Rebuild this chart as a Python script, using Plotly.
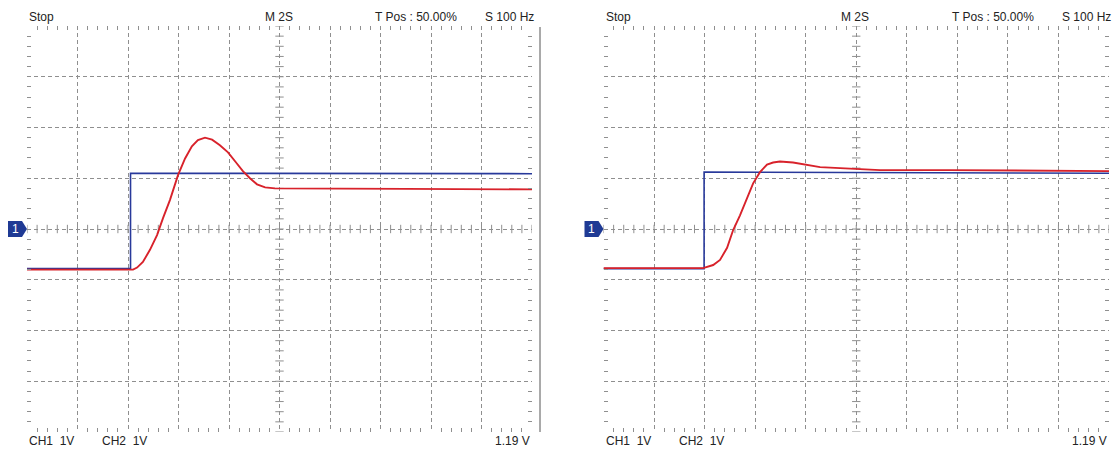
import numpy as np
import plotly.graph_objects as go

# ---------------- data (time in s, voltage in V) ----------------
left_red_t = [-10, -5.80, -5.64, -5.41, -5.13, -4.85, -4.61, -4.34, -4.02, -3.74, -3.47, -3.23,
              -2.95, -2.67, -2.36, -2.04, -1.72, -1.45, -1.17, -0.89, -0.57, -0.18, 5.0, 10]
left_red_v = [-0.80, -0.80, -0.76, -0.65, -0.41, -0.12, 0.22, 0.57, 1.06, 1.39, 1.63, 1.75,
              1.80, 1.76, 1.65, 1.51, 1.31, 1.14, 1.00, 0.88, 0.82, 0.80, 0.79, 0.78]
left_blue_t = [-10, -5.90, -5.90, 10]
left_blue_v = [-0.78, -0.78, 1.10, 1.09]

right_red_t = [-10, -6.06, -5.66, -5.39, -5.11, -4.87, -4.60, -4.32, -4.08, -3.81, -3.53, -3.29,
               -3.02, -2.50, -1.95, -1.43, -0.64, 0.94, 3.70, 10]
right_red_v = [-0.77, -0.77, -0.71, -0.61, -0.37, -0.02, 0.27, 0.61, 0.90, 1.12, 1.27, 1.31,
               1.33, 1.31, 1.27, 1.22, 1.20, 1.16, 1.16, 1.14]
right_blue_t = [-10, -6.02, -6.02, 10]
right_blue_v = [-0.78, -0.78, 1.12, 1.10]

header_left = ["Stop", "M 2S", "T Pos : 50.00%", "S 100 Hz"]
footer_left = ["CH1  1V", "CH2  1V"]
footer_right = "1.19 V"

W, H = 1115, 451
RED = "#d8222b"
BLUE = "#28399b"
GRID = "#8f8f8f"

def px(x):
    return x / W

def py(y):
    return (H - y) / H

top_px, bot_px = 26, 432
panels = [(27, 532), (603.5, 1109)]

fig = go.Figure()

axis_common = dict(
    showline=False, zeroline=False, showticklabels=False,
    showgrid=True, gridcolor=GRID, griddash="4px,3px", gridwidth=1,
    ticks="inside", ticklen=0, tickcolor=GRID, mirror="allticks",
    fixedrange=True,
)

layout_axes = {}
for i, (x0, x1) in enumerate(panels):
    sx = "" if i == 0 else str(i + 1)
    layout_axes["xaxis" + sx] = dict(
        axis_common, domain=[px(x0), px(x1)], range=[-10, 10], tick0=-10, dtick=2,
        anchor="y" + sx,
        minor=dict(ticks="inside", ticklen=4, tickcolor=GRID, dtick=0.4, tick0=-10, showgrid=False),
    )
    layout_axes["yaxis" + sx] = dict(
        axis_common, domain=[py(bot_px), py(top_px)], range=[-4, 4], tick0=-4, dtick=1,
        anchor="x" + sx,
        minor=dict(ticks="inside", ticklen=4, tickcolor=GRID, dtick=0.2, tick0=-4, showgrid=False),
    )

# center cross tick marks
cx = np.arange(-10, 10.001, 0.4)
cy = np.arange(-4, 4.001, 0.2)
for i in range(2):
    sx = "" if i == 0 else str(i + 1)
    fig.add_trace(go.Scatter(x=cx, y=np.zeros_like(cx), mode="markers", xaxis="x" + sx, yaxis="y" + sx,
                             marker=dict(symbol="line-ns", size=6, line=dict(width=1, color=GRID)),
                             hoverinfo="skip", showlegend=False))
    fig.add_trace(go.Scatter(x=np.zeros_like(cy), y=cy, mode="markers", xaxis="x" + sx, yaxis="y" + sx,
                             marker=dict(symbol="line-ew", size=6, line=dict(width=1, color=GRID)),
                             hoverinfo="skip", showlegend=False))

series = [
    (left_blue_t, left_blue_v, BLUE, "x", "y"),
    (left_red_t, left_red_v, RED, "x", "y"),
    (right_blue_t, right_blue_v, BLUE, "x2", "y2"),
    (right_red_t, right_red_v, RED, "x2", "y2"),
]
for t, v, c, xa, ya in series:
    fig.add_trace(go.Scatter(x=t, y=v, mode="lines", xaxis=xa, yaxis=ya,
                             line=dict(color=c, width=1.9 if c == RED else 1.6),
                             hoverinfo="skip", showlegend=False))

annotations = []
shapes = []
FONT = dict(family="Liberation Sans, Arial, sans-serif", size=12, color="#222222")
head_x = [(27, "left"), (295, "right"), (459, "right"), (536, "right")]
for off in (0, 576.5):
    for (hx, anc), txt in zip(head_x, header_left):
        annotations.append(dict(x=px(hx + off), y=py(17), xref="paper", yref="paper", text=txt,
                                showarrow=False, xanchor=anc, yanchor="middle", font=FONT))
    annotations.append(dict(x=px(27 + off), y=py(441), xref="paper", yref="paper", text=footer_left[0],
                            showarrow=False, xanchor="left", yanchor="middle", font=FONT))
    annotations.append(dict(x=px(100 + off), y=py(441), xref="paper", yref="paper", text=footer_left[1],
                            showarrow=False, xanchor="left", yanchor="middle", font=FONT))
    annotations.append(dict(x=px(532 + off), y=py(441), xref="paper", yref="paper", text=footer_right,
                            showarrow=False, xanchor="right", yanchor="middle", font=FONT))
    # channel 1 marker
    a = 8 + off
    b = 22 + off
    c = 27 + off
    path = (f"M {px(a)} {py(221)} L {px(b)} {py(221)} L {px(c)} {py(229)} "
            f"L {px(b)} {py(237)} L {px(a)} {py(237)} Z")
    shapes.append(dict(type="path", path=path, xref="paper", yref="paper",
                       fillcolor="#1f3a94", line=dict(width=0)))
    annotations.append(dict(x=px(15 + off), y=py(229), xref="paper", yref="paper", text="1",
                            showarrow=False, xanchor="center", yanchor="middle",
                            font=dict(family="Liberation Sans, Arial, sans-serif", size=12, color="white")))

# solid divider on the right of left screenshot
shapes.append(dict(type="line", x0=px(540), x1=px(540), y0=py(27), y1=py(432), xref="paper", yref="paper",
                   line=dict(color="#555555", width=1)))

fig.update_layout(
    width=W, height=H, margin=dict(l=0, r=0, t=0, b=0),
    paper_bgcolor="white", plot_bgcolor="white",
    annotations=annotations, shapes=shapes, showlegend=False,
    **layout_axes,
)

fig.write_html("out.html", config={"displayModeBar": False},
               post_script="document.body.style.margin='0';document.body.style.overflow='hidden';")
